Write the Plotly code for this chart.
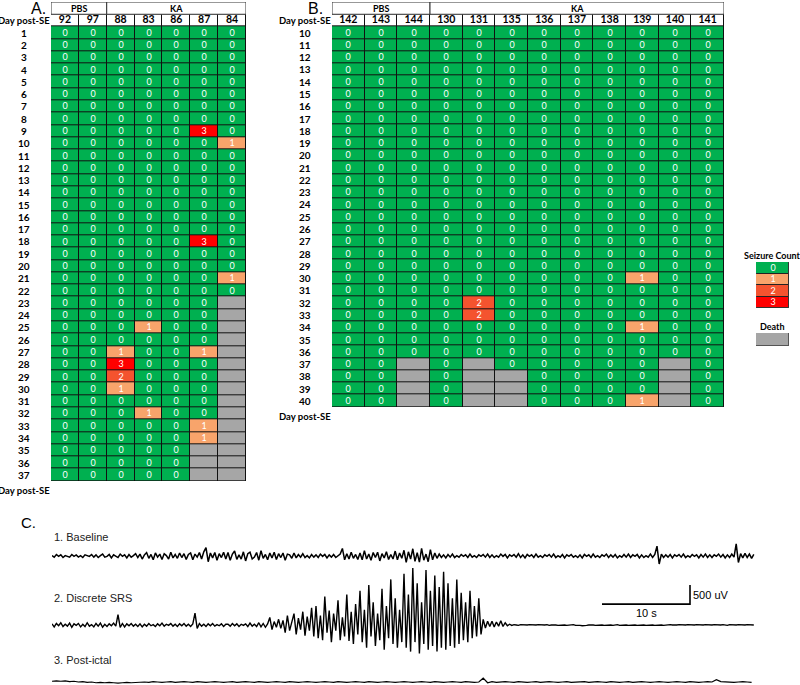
import plotly.graph_objects as go

W, H = 800, 685

# ---------------- Panel A data ----------------
A_IDS = ["92", "97", "88", "83", "86", "87", "84"]
A_GROUPS = [("PBS", 2), ("KA", 5)]
A_DAYS = list(range(1, 38))
A_SEIZURES = {
    "88": {27: 1, 28: 3, 29: 2, 30: 1},
    "83": {25: 1, 32: 1},
    "87": {9: 3, 18: 3, 27: 1, 33: 1, 34: 1},
    "84": {10: 1, 21: 1},
}
A_DEATH = {"84": 23, "87": 35}

# ---------------- Panel B data ----------------
B_IDS = ["142", "143", "144", "130", "131", "135", "136", "137", "138", "139", "140", "141"]
B_GROUPS = [("PBS", 3), ("KA", 9)]
B_DAYS = list(range(10, 41))
B_SEIZURES = {
    "131": {32: 2, 33: 2},
    "139": {30: 1, 34: 1, 40: 1},
}
B_DEATH = {"144": 37, "131": 37, "135": 38, "140": 37}

LEGEND_LEVELS = [0, 1, 2, 3]

# ---------------- Panel C data (uV) ----------------
DT_FAST = 0.25
DT_SLOW = 0.5
BASELINE_UV = [
    10, -30, 40, -10, 30, -40, 10, 0, -30, 40, -10, 30, -30, 10, -40, 30, 0, -10, 40, -30,
    30, -40, 10, 50, -30, -10, 40, -50, 30, 0, -40, 50, -10, 30, -50, 40, -30, 10, 60, -40,
    50, -80, 30, 90, -60, 40, -100, 80, -30, 50, -90, 60, 10, -80, 100, -50, 40, -60, 80, -40,
    60, -90, 40, 80, -100, 50, -30, 90, -80, 110, 220, -150, 80, -50, 90, -110, 60, -40, 100, -80,
    90, -110, 50, 130, -90, 30, -80, 110, -130, 60, 100, -80, -30, 90, -110, 140, -60, 40, -100, 80,
    -50, 100, -90, 60, -40, 80, -110, 50, 30, -60, 80, -50, 40, -30, 60, -40, 10, -50, 40, -30,
    30, -40, 50, -10, 40, -50, 30, -30, 40, -40, 10, 50, 200, -100, 60, -80, 100, -60, 40, -90,
    80, -100, 140, -80, 50, -110, 90, -40, 100, -130, 60, -50, 110, -90, 40, -80, 130, -100, 80, -60,
    150, -170, 110, -80, 190, -140, 90, -160, 200, -110, 50, -150, 170, -100, 80, -60, 50, -40, 30, -50,
    40, -30, 50, -40, 10, -30, 40, -10, 30, -40, 50, -30, 10, -40, 30, -10, 40, -30, 50, -40,
    30, -40, 10, -30, 50, -10, 40, -50, 30, -10, 40, -30, 60, -40, 30, -50, 40, -10, 30, -40,
    50, -30, 10, -40, 30, -10, 40, -30, 50, -40, 10, -30, 40, -50, 30, -10, 40, -30, 10, -40,
    30, -50, 40, -10, 30, -40, 50, -30, 10, -40, 30, -10, 50, -40, 30, -30, 40, -50, 10, -30,
    40, -30, 50, -40, 30, -10, 40, -50, 30, -40, 10, -30, 50, -40, 40, 260, -210, 50, -40, 30,
    -30, 40, -50, 30, -10, 40, -30, 50, -40, 10, -30, 40, -10, 30, -50, 40, -30, 50, -40, 30,
    -40, 30, -10, 50, -30, 40, -50, 30, -40, 50, -30, 320, -170, 60, -50, 70, -40, 50, -60, 40,
]
SRS_UV = [
    30, -50, 40, -20, 60, -40, 20, -30, 50, -60, 30, -10, 40, -50, 20, -40, 60, -30, 10, -50,
    40, -30, 50, -60, 20, -40, 30, -20, 50, -30, 270, -60, 40, -50, 30, -20, 40, -30, 20, -40,
    30, -50, 20, -30, 40, -20, 10, -40, 30, -20, 50, -30, 20, -10, 40, -30, 20, -40, 30, -20,
    40, -30, 20, -40, 30, 310, -90, 40, -30, 20, -40, 30, -20, 40, -30, 10, -20, 30, -40, 20,
    20, -30, 40, -20, 30, -40, 20, -10, 30, -40, 50, -30, 20, -40, 60, -50, 40, -60, 30, 200,
    -120, 90, -60, 150, -90, 120, -200, 250, -150, 80, 300, -250, 180, -120, 350, -280, 220, -150, 450, -300,
    500, -350, 250, -400, 750, -200, 380, -450, 300, -150, 650, -400, 200, -300, 800, -420, 350, -500, 550, -250,
    900, -450, 400, -600, 1050, -300, 600, -550, 300, -400, 950, -650, 500, -350, 1200, -500, 700, -600, 400, -450,
    1350, -600, 800, -700, 1500, -450, 1100, -750, 600, -500, 1450, -650, 900, -550, 1300, -700, 1000, -600, 1400, -650,
    1100, -550, 700, -600, 1200, -500, 850, -400, 600, -450, 900, -350, 500, -300, 700, -250, 150, -80, 100, -40,
    100, -50, 80, -30, 110, -40, 60, -20, 20, -10, 10, 0, -10, 10, 0, -10, 0, 10, 0, -10,
    0, 10, 0, -10, 0, 10, -10, 0, 10, 0, -10, 0, 10, 0, -10, 0, 0, 10, -10, 0,
    -10, -20, -20, -10, 0, 10, 0, -10, 0, 10, 0, -10, 0, 10, 0, -10, 0, 10, -10, 0,
    10, 0, -10, 0, 10, 0, -10, 0, 10, 0, -10, 0, 10, 0, -10, 0, 10, 0, -10, 0,
    0, 10, 0, -10, 0, 10, 0, -10, 0, 10, 0, -10, 0, 10, 0, -10, 0, 10, 0, -10,
    0, 10, 0, -10, 0, 10, 0, -10, 10, 0, -10, 0, 10, 0, -10, 0, 10, 0, -10, 0,
]
POSTICTAL_UV = [
    20, 30, 20, 30, 10, 20, 0, 10, -10, 0, -20, -10, -20, -10, -20, -30, -20, -10, -20, -10,
    -10, 0, -10, 10, 0, -10, 0, 10, -10, 0, 10, 0, -10, 10, 0, -10, 0, 10, 0, -10,
    0, 10, -10, 0, 10, 0, -10, 10, 0, -10, 0, 10, 0, -10, 10, 0, -10, 0, 10, 0,
    -10, 0, 10, 0, -10, 10, 0, -10, 0, 10, 0, -10, 10, 0, -10, 0, 10, 0, -10, 0,
    10, 0, -10, 0, 10, 0, -10, 10, 0, -10, 0, 10, 0, -10, 10, 0, -10, 0, 100, -20,
    10, -10, 0, 10, 0, -10, 10, 0, -10, 0, 10, -10, 0, 10, 0, -10, 0, 10, -10, 0,
    0, 10, -10, 0, 10, 0, -10, 10, 0, -10, 0, 10, -10, 0, 10, 0, -10, 0, 10, 0,
    -10, 0, 10, 0, -10, 10, 0, -10, 0, 10, 0, 60, 10, 0, -10, -10, 0, 10, 0, -10,
]
SCALE_T = 10      # s
SCALE_UV = 500    # uV
SCALE_ANCHOR = (62.5, 550)   # (s, uV) corner of the scale bar
TRACE_LABELS = ["1. Baseline", "2. Discrete SRS", "3. Post-ictal"]

# ---------------- styling ----------------
WHITE = "#FFFFFF"
GREEN = "#00B050"
ORANGE = "#F8A46B"
REDORANGE = "#F4532F"
RED = "#FF0000"
GRAY = "#A6A6A6"
COLORSCALE = [
    [0.0, WHITE], [0.1, WHITE],
    [0.1, GREEN], [0.3, GREEN],
    [0.3, ORANGE], [0.5, ORANGE],
    [0.5, REDORANGE], [0.7, REDORANGE],
    [0.7, RED], [0.9, RED],
    [0.9, GRAY], [1.0, GRAY],
]
FT = "Lato, Carlito, Calibri, sans-serif"
FA = "Arial, Liberation Sans, sans-serif"
UV_PER_PX = SCALE_UV / 19.0
SEC_PER_PX = SCALE_T / 88.0


def fx(px):
    return px / W


def fy(py):
    return 1 - py / H


def axname(n):
    return ("xaxis" if n == 1 else f"xaxis{n}", "yaxis" if n == 1 else f"yaxis{n}",
            "x" if n == 1 else f"x{n}", "y" if n == 1 else f"y{n}")


fig = go.Figure()
layout_axes = {}
shapes = []
annotations = []


def note(x, y, text, font, xref="paper", yref="paper", xanchor="center", yanchor="middle", **kw):
    d = dict(xref=xref, yref=yref, x=x, y=y, text=text, showarrow=False,
             xanchor=xanchor, yanchor=yanchor, font=font)
    d.update(kw)
    annotations.append(d)


def build_matrix(ids, days, seizures, death):
    z, txt = [], []
    for d in days:
        zr, tr = [], []
        for a in ids:
            if a in death and d >= death[a]:
                zr.append(4)
                tr.append("")
            else:
                c = seizures.get(a, {}).get(d, 0)
                zr.append(c)
                tr.append(str(c))
        z.append(zr)
        txt.append(tr)
    return z, txt


def add_table(n, ids, groups, days, seizures, death, box, label_cx, bottom_label_y):
    xk, yk, xr, yr = axname(n)
    x0, x1, ytop, ybot = box
    k = len(ids)
    first, last = days[0], days[-1]
    id_row = first - 1
    grp_row = first - 2
    layout_axes[xk] = dict(domain=[fx(x0), fx(x1)], range=[-0.5, k - 0.5], type="category",
                           visible=False, anchor=yr, fixedrange=True)
    layout_axes[yk] = dict(domain=[fy(ybot), fy(ytop)], range=[last + 0.5, grp_row - 0.5],
                           visible=False, anchor=xr, fixedrange=True)
    z, txt = build_matrix(ids, days, seizures, death)
    z = [[-1] * k] + z
    txt = [[""] * k] + txt
    fig.add_trace(go.Heatmap(
        x=ids, y=[id_row] + days, z=z, text=txt, texttemplate="%{text}",
        textfont=dict(family=FT, size=9, color="white"),
        colorscale=COLORSCALE, zmin=-1, zmax=4, showscale=False,
        xgap=1, ygap=1, hoverinfo="skip", xaxis=xr, yaxis=yr))
    fig.add_trace(go.Scatter(
        x=ids, y=[id_row] * k, mode="text", text=ids,
        textfont=dict(family=FT, size=10.5, color="black", weight="bold"),
        hoverinfo="skip", xaxis=xr, yaxis=yr))
    shapes.append(dict(type="rect", xref=xr, yref=yr, x0=-0.5, x1=k - 0.5,
                       y0=id_row - 0.5, y1=last + 0.5, fillcolor="#111111",
                       line=dict(color="#111111", width=1), layer="below"))
    start = 0
    for name, span in groups:
        shapes.append(dict(type="rect", xref=xr, yref=yr, x0=start - 0.5, x1=start + span - 0.5,
                           y0=grp_row - 0.5, y1=grp_row + 0.5, fillcolor="white",
                           line=dict(color="#333333", width=1), layer="above"))
        note(start + (span - 1) / 2, grp_row, name,
             dict(family=FT, size=9, color="black", weight="bold"), xref=xr, yref=yr)
        start += span
    lab_font = dict(family=FT, size=10, color="black", weight="bold")
    head_font = dict(family=FT, size=9.5, color="black", weight="bold")
    for d in days:
        note(fx(label_cx), d, str(d), lab_font, yref=yr)
    note(fx(label_cx), id_row, "Day post-SE", head_font, yref=yr)
    note(fx(label_cx), fy(bottom_label_y), "Day post-SE", head_font)


add_table(1, A_IDS, A_GROUPS, A_DAYS, A_SEIZURES, A_DEATH, (51, 246, 2, 481), 24, 490)
add_table(2, B_IDS, B_GROUPS, B_DAYS, B_SEIZURES, B_DEATH, (332, 724, 2, 407), 305, 416)

# panel letters
note(fx(38), fy(8), "A.", dict(family=FA, size=16, color="black"))
note(fx(315), fy(8), "B.", dict(family=FA, size=16, color="black"))
note(fx(28), fy(522), "C.", dict(family=FA, size=15, color="black"))

# ---------------- legend ----------------
xk, yk, xr, yr = axname(3)
layout_axes[xk] = dict(domain=[fx(756), fx(789)], range=[-0.5, 0.5], type="category",
                       visible=False, anchor=yr)
layout_axes[yk] = dict(domain=[fy(308), fy(262)], range=[len(LEGEND_LEVELS) - 0.5, -0.5],
                       visible=False, anchor=xr)
fig.add_trace(go.Heatmap(
    x=["c"], y=LEGEND_LEVELS, z=[[v] for v in LEGEND_LEVELS],
    text=[[str(v)] for v in LEGEND_LEVELS], texttemplate="%{text}",
    textfont=dict(family=FT, size=9, color="white"),
    colorscale=COLORSCALE, zmin=-1, zmax=4, showscale=False, xgap=1, ygap=1,
    hoverinfo="skip", xaxis=xr, yaxis=yr))
shapes.append(dict(type="rect", xref=xr, yref=yr, x0=-0.5, x1=0.5, y0=-0.5,
                   y1=len(LEGEND_LEVELS) - 0.5, fillcolor="#222222",
                   line=dict(color="#444444", width=1), layer="below"))
note(fx(772), fy(255), "Seizure Count", dict(family=FT, size=9, color="black", weight="bold"))

xk, yk, xr, yr = axname(4)
layout_axes[xk] = dict(domain=[fx(756), fx(789)], range=[-0.5, 0.5], type="category",
                       visible=False, anchor=yr)
layout_axes[yk] = dict(domain=[fy(346), fy(333)], range=[0.5, -0.5], visible=False, anchor=xr)
fig.add_trace(go.Heatmap(
    x=["d"], y=[0], z=[[4]], colorscale=COLORSCALE, zmin=-1, zmax=4, showscale=False,
    xgap=1, ygap=1, hoverinfo="skip", xaxis=xr, yaxis=yr))
shapes.append(dict(type="rect", xref=xr, yref=yr, x0=-0.5, x1=0.5, y0=-0.5, y1=0.5,
                   fillcolor="#555555", line=dict(color="#555555", width=1), layer="below"))
note(fx(772), fy(326), "Death", dict(family=FT, size=9, color="black", weight="bold"))

# ---------------- Panel C traces ----------------
TRACE_X0, TRACE_X1 = 52, 755
t_span = (TRACE_X1 - TRACE_X0) * SEC_PER_PX
traces = [
    (5, BASELINE_UV, DT_FAST, 556, 20, 16, 537, 1.5),
    (6, SRS_UV, DT_FAST, 625, 62, 32, 598, 1.4),
    (7, POSTICTAL_UV, DT_SLOW, 682, 10, 3, 660, 1.2),
]
for (n, vals, dt, center, up, down, label_y, lw), label in zip(traces, TRACE_LABELS):
    xk, yk, xr, yr = axname(n)
    layout_axes[xk] = dict(domain=[fx(TRACE_X0), fx(TRACE_X1)], range=[0, t_span],
                           visible=False, anchor=yr)
    layout_axes[yk] = dict(domain=[fy(center + down), fy(center - up)],
                           range=[-down * UV_PER_PX, up * UV_PER_PX], visible=False, anchor=xr)
    times = [i * dt for i in range(len(vals))]
    fig.add_trace(go.Scatter(x=times, y=vals, mode="lines",
                             line=dict(color="black", width=lw), hoverinfo="skip",
                             xaxis=xr, yaxis=yr))
    note(fx(TRACE_X0), fy(label_y), label, dict(family=FA, size=11, color="#222222"),
         xanchor="left")

# scale bar in SRS axes
xk, yk, xr, yr = axname(6)
sx, sy = SCALE_ANCHOR
fig.add_trace(go.Scatter(x=[sx, sx + SCALE_T, sx + SCALE_T], y=[sy, sy, sy + SCALE_UV],
                         mode="lines", line=dict(color="black", width=1.6), hoverinfo="skip",
                         xaxis=xr, yaxis=yr))
note(sx + SCALE_T / 2, sy, f"{SCALE_T} s", dict(family=FA, size=11, color="black"),
     xref=xr, yref=yr, yanchor="top", yshift=-1)
note(sx + SCALE_T, sy + SCALE_UV / 2, f"{SCALE_UV} uV", dict(family=FA, size=11, color="black"),
     xref=xr, yref=yr, xanchor="left", xshift=1)

fig.update_layout(
    width=W, height=H, margin=dict(l=0, r=0, t=0, b=0),
    paper_bgcolor="white", plot_bgcolor="rgba(0,0,0,0)", showlegend=False,
    shapes=shapes, annotations=annotations, **layout_axes,
)
fig.write_html(
    "out.html",
    config={"displayModeBar": False},
    post_script="document.body.style.margin='0';document.body.style.overflow='hidden';",
)
